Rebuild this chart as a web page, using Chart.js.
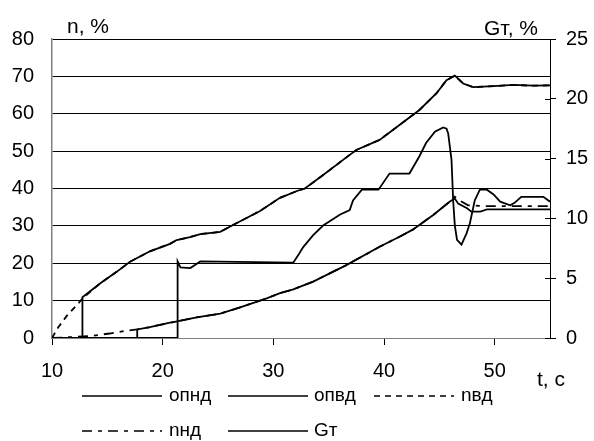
<!DOCTYPE html>
<html>
<head>
<meta charset="utf-8">
<title>n, Gт</title>
<script src="https://cdn.jsdelivr.net/npm/chart.js@4.4.1/dist/chart.umd.min.js"></script>
<style>
    body { margin: 0; background: #fff; }
    #wrap { width: 594px; height: 441px; }
</style>
</head>
<body>
<div id="wrap"><canvas id="myChart" width="594" height="441"></canvas></div>
<script>
// time, s
const tOpnd = [10, 17.7, 17.7, 18.85, 20.66, 21.2, 23.07, 25.2, 27, 29.4, 30.6, 31.8, 33.6, 36.6, 39.6, 41.4, 42.6, 44.45, 45.95, 46.4, 46.7, 47.5, 47.9, 48.7, 49.3, 55];
const opnd = [0, 0, 2.3, 2.9, 4.1, 4.4, 5.5, 6.5, 8.2, 10.6, 12, 13, 15.1, 19.5, 24.4, 27.1, 29, 32.9, 36.5, 37.3, 36, 34.7, 33.8, 33.8, 34.4, 34.4];

const tOpvd = [10, 12.75, 12.75, 14.34, 15.84, 17.05, 18.85, 20.66, 21.26, 22.47, 23.4, 25.2, 26.4, 28.8, 30.6, 32.2, 32.85, 34.5, 36.9, 37.5, 39.6, 41.4, 43.2, 44.75, 45.65, 46.4, 47.15, 48.06, 49.9, 51.7, 53.5, 55];
const opvd = [0, 0, 10.9, 14.6, 17.7, 20.4, 23.2, 25.2, 26.2, 27.0, 27.8, 28.4, 30.3, 34.0, 37.5, 39.4, 40.0, 43.6, 49.0, 50.3, 53.0, 57.0, 61.0, 65.5, 69.0, 70.2, 68.1, 67.1, 67.4, 67.7, 67.5, 67.6];

const tNvd = [10, 10.57, 11.33, 12.23, 12.8, 14.34, 15.84, 17.05, 18.85, 20.66, 21.26, 22.47, 23.4, 25.2, 26.4, 28.8, 30.6, 32.2, 32.85, 34.5, 36.9, 37.5, 39.6, 41.4, 43.2, 44.75, 45.65, 46.4, 47.15, 48.06, 49.9, 51.7, 53.5, 55];
const nvd = [0, 2.9, 5.9, 8.8, 10.7, 14.6, 17.7, 20.4, 23.2, 25.2, 26.2, 27.0, 27.8, 28.4, 30.3, 34.0, 37.5, 39.4, 40.0, 43.6, 49.0, 50.3, 53.0, 57.0, 61.0, 65.5, 69.0, 70.2, 68.1, 67.1, 67.4, 67.7, 67.5, 67.6];

const tNnd = [10, 11.5, 13.4, 15.2, 16.75, 17.7, 18.85, 20.66, 21.2, 23.07, 25.2, 27, 29.4, 30.6, 31.8, 33.6, 36.6, 39.6, 41.4, 42.6, 44.45, 45.95, 46.4, 47.0, 47.6, 49, 55];
const nnd = [0, 0.2, 0.5, 1.2, 1.95, 2.3, 2.9, 4.1, 4.4, 5.5, 6.5, 8.2, 10.6, 12, 13, 15.1, 19.5, 24.4, 27.1, 29, 32.9, 36.5, 37.8, 36.5, 35.5, 35.3, 35.3];

// fuel flow, right axis
const tGt = [10, 21.35, 21.35, 21.6, 22.5, 23.4, 31.8, 32.3, 32.7, 33.6, 34.5, 36, 36.9, 37.2, 38, 39.5, 40.5, 42.3, 43.2, 43.8, 44.6, 45.35, 45.65, 45.8, 46.1, 46.25, 46.4, 46.6, 47.0, 47.46, 47.76, 48.2, 48.66, 49.3, 49.9, 50.5, 51.4, 51.8, 52.4, 54.4, 55];
const gt = [0, 0, 6.4, 5.9, 5.85, 6.4, 6.3, 7.0, 7.6, 8.6, 9.4, 10.3, 10.7, 11.5, 12.4, 12.4, 13.75, 13.75, 15.2, 16.3, 17.25, 17.6, 17.5, 17.1, 14.9, 11.5, 9.4, 8.2, 7.8, 8.75, 9.6, 11.5, 12.4, 12.4, 12.0, 11.4, 11.1, 11.3, 11.8, 11.8, 11.4];

const labels = ['опнд', 'опвд', 'nвд', 'nнд', 'Gт'];
const axisTitles = ['n, %', 'Gт, %', 't, с'];

const FONT = "'Liberation Sans', Arial, sans-serif";

function pairs(xs, ys) {
    return xs.map((x, i) => ({ x: x, y: ys[i] }));
}

function series(label, xs, ys, dash, axis) {
    return {
        label: label,
        data: pairs(xs, ys),
        borderColor: '#000',
        backgroundColor: '#000',
        borderWidth: 1.8,
        borderDash: dash,
        pointRadius: 0,
        tension: 0,
        yAxisID: axis
    };
}

// titles, legend and the inner half of the right-axis ticks
const extras = {
    id: 'extras',
    afterDraw(chart) {
        const ctx = chart.ctx;
        const area = chart.chartArea;
        ctx.save();
        ctx.fillStyle = '#000';
        ctx.strokeStyle = '#000';
        ctx.textBaseline = 'middle';
        ctx.font = '21px ' + FONT;
        ctx.textAlign = 'left';
        ctx.fillText(axisTitles[0], 67, 27);
        ctx.textAlign = 'right';
        ctx.fillText(axisTitles[1], 538, 29);
        ctx.textAlign = 'left';
        ctx.fillText(axisTitles[2], 537, 380);

        const y2 = chart.scales.y2;
        ctx.lineWidth = 1;
        y2.ticks.forEach(t => {
            const py = Math.round(y2.getPixelForValue(t.value)) + 0.5;
            ctx.beginPath();
            ctx.moveTo(area.right - 5, py);
            ctx.lineTo(area.right, py);
            ctx.stroke();
        });

        // legend: two rows, three columns
        const cols = [[82, 162, 169], [228, 308, 314], [374, 454, 461]];
        const rows = [396, 431];
        ctx.font = '19px ' + FONT;
        chart.data.datasets.forEach((ds, i) => {
            const c = cols[i % 3];
            const y = rows[Math.floor(i / 3)];
            ctx.lineWidth = 1.5;
            ctx.setLineDash(ds.borderDash || []);
            ctx.beginPath();
            ctx.moveTo(c[0], y);
            ctx.lineTo(c[1], y);
            ctx.stroke();
            ctx.setLineDash([]);
            ctx.fillText(ds.label, c[2], y);
        });
        ctx.restore();
    }
};

const tickFont = { size: 20, family: FONT };

const config = {
    type: 'line',
    data: {
        datasets: [
            series(labels[0], tOpnd, opnd, [], 'y'),
            series(labels[1], tOpvd, opvd, [], 'y'),
            series(labels[2], tNvd, nvd, [6, 5], 'y'),
            series(labels[3], tNnd, nnd, [10, 6, 4, 6], 'y'),
            series(labels[4], tGt, gt, [], 'y2')
        ]
    },
    options: {
        responsive: false,
        animation: false,
        layout: { padding: { top: 39, left: 0, right: 0, bottom: 0 } },
        plugins: {
            legend: { display: false },
            tooltip: { enabled: false }
        },
        scales: {
            x: {
                type: 'linear',
                min: 10,
                max: 55,
                ticks: { stepSize: 10, includeBounds: false, padding: 14, color: '#000', font: tickFont },
                grid: { drawOnChartArea: false, tickLength: 7, tickColor: '#000' },
                border: { color: '#808080', width: 1 },
                afterFit: scale => { scale.height = 103; }
            },
            y: {
                position: 'left',
                min: 0,
                max: 80,
                ticks: { stepSize: 10, padding: 18, color: '#000', font: tickFont },
                grid: { color: '#000', lineWidth: 1, drawTicks: false },
                border: { color: '#808080', width: 1.5 },
                afterFit: scale => { scale.width = 52; }
            },
            y2: {
                position: 'right',
                min: 0,
                max: 25,
                ticks: { stepSize: 5, padding: 10, color: '#000', font: tickFont },
                grid: { drawOnChartArea: false, tickLength: 6, tickColor: '#000' },
                border: { color: '#000', width: 1 },
                afterFit: scale => { scale.width = 44; }
            }
        }
    },
    plugins: [extras]
};

new Chart(document.querySelector('#myChart'), config);
</script>
</body>
</html>
